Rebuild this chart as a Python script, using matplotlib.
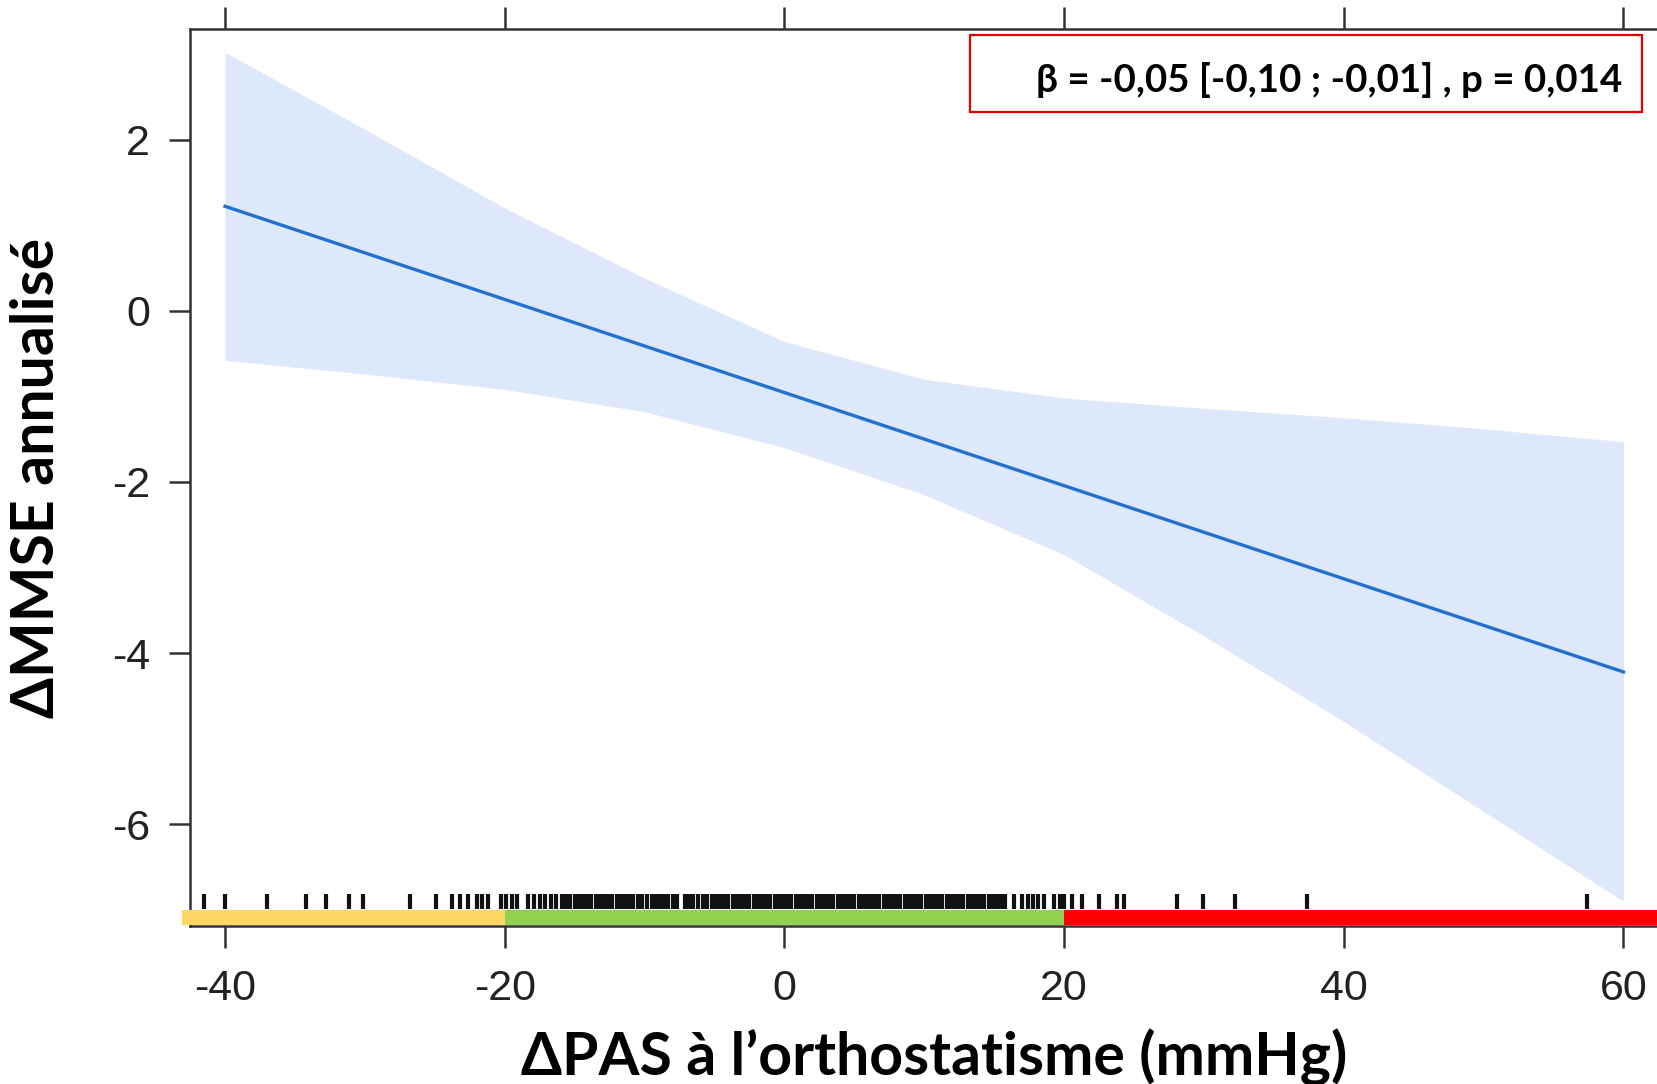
import numpy as np
import matplotlib
matplotlib.use("Agg")
import matplotlib.pyplot as plt
from matplotlib.patches import Rectangle

# ---- data --------------------------------------------------------------------
band_x = [-40, -30, -20, -10, 0, 10, 20, 30, 40, 50, 60]
band_upper = [3.02, 2.12, 1.20, 0.38, -0.36, -0.80, -1.02, -1.14, -1.25, -1.38, -1.53]
band_lower = [-0.58, -0.74, -0.92, -1.18, -1.60, -2.15, -2.85, -3.80, -4.80, -5.85, -6.90]
fit_x = [-40, 60]
fit_y = [1.22, -4.22]

rug = [-41.5, -40.0, -37.0, -34.2, -32.8, -31.1, -30.1, -26.8, -24.9, -23.8, -23.2,
       -22.6, -22.0, -21.6, -21.2, -20.3, -19.9, -19.5, -19.1, -18.3, -17.9, -17.5,
       -17.1, -16.7, -16.3,
       -15.9, -15.6, -15.3, -15.0, -14.7, -14.4, -14.1, -13.8, -13.5, -13.2, -12.9,
       -12.6, -12.3, -12.0, -11.7, -11.4, -11.1, -10.8, -10.5, -10.2, -9.8, -9.5,
       -9.2, -8.9, -8.6, -8.3, -8.0, -7.7, -7.1, -6.8, -6.5, -6.2, -5.8, -5.5, -5.2,
       -4.9, -4.6, -4.3, -4.0, -3.7, -3.4, -3.1, -2.8, -2.5, -2.2, -1.9, -1.6, -1.3,
       -1.0, -0.7, -0.4, -0.1, 0.2, 0.5, 0.8, 1.1, 1.4, 1.7, 2.0, 2.3, 2.6, 2.9,
       3.2, 3.5, 3.8, 4.1, 4.4, 4.7, 5.0, 5.3, 5.6, 5.9, 6.2, 6.5, 6.8, 7.1, 7.4,
       7.7, 8.0, 8.3, 8.6, 8.9, 9.2, 9.5, 9.8, 10.1, 10.4, 10.7, 11.0, 11.3, 11.6,
       11.9, 12.2, 12.5, 12.8, 13.1, 13.4, 13.7, 14.0, 14.3, 14.6, 14.9, 15.2, 15.5,
       15.8, 16.4, 17.0, 17.4, 17.8, 18.1, 18.6, 19.3, 19.7, 20.0, 20.6,
       21.3, 22.5, 23.8, 24.3, 28.1, 29.9, 32.2, 37.4, 57.4]

# categories of orthostatic SBP change (coloured strip under the rug)
zone_start = [-43.1, -20, 20]
zone_end = [-20, 20, 62.4]
zone_color = ["#fdd865", "#92d050", "#ff0000"]

xticks = [-40, -20, 0, 20, 40, 60]
xtick_labels = ["-40", "-20", "0", "20", "40", "60"]
yticks = [2, 0, -2, -4, -6]
ytick_labels = ["2", "0", "-2", "-4", "-6"]

annot = "β = -0,05 [-0,10 ; -0,01] , p = 0,014"
xlabel = "ΔPAS à l’orthostatisme (mmHg)"
ylabel = "ΔMMSE annualisé"

BAND, LINE, SPINE = "#dde8fb", "#2270cf", "#333333"
BOLD_FONT = ["Lato", "DejaVu Sans"]

# ---- figure -------------------------------------------------------------------
fig = plt.figure(figsize=(16.57, 10.84), dpi=100)
ax = fig.add_axes([0.1147, 0.1458, 1 - 0.1147, 0.9737 - 0.1458])

ax.fill_between(band_x, band_lower, band_upper, color=BAND, lw=0, zorder=1)
ax.plot(fit_x, fit_y, color=LINE, lw=2.4, zorder=3)
ax.vlines(rug, -6.99, -6.82, color="#111111", lw=3.0, zorder=4)

for x0, x1, c in zip(zone_start, zone_end, zone_color):
    ax.add_patch(Rectangle((x0, -7.18), x1 - x0, 0.18, facecolor=c, edgecolor="none",
                           clip_on=False, zorder=5))

ax.set_xlim(-42.5, 62.4)
ax.set_ylim(-7.188, 3.297)
ax.set_xticks(xticks)
ax.set_xticklabels(xtick_labels, fontfamily="Liberation Sans")
ax.set_yticks(yticks)
ax.set_yticklabels(ytick_labels, fontfamily="Liberation Sans")
ax.tick_params(axis="x", top=True, labeltop=False, direction="out", length=16,
               width=1.8, color=SPINE, labelsize=31, pad=15, labelcolor="#222222")
ax.tick_params(axis="y", direction="out", length=15, width=1.8, color=SPINE,
               labelsize=31, pad=14, labelcolor="#222222")
for s in ("left", "top", "bottom"):
    ax.spines[s].set_color(SPINE)
    ax.spines[s].set_linewidth(1.8)
ax.spines["right"].set_visible(False)

# annotation box
ax.add_patch(Rectangle((0.532, 0.907), 0.458, 0.0858, transform=ax.transAxes,
                       facecolor="white", edgecolor="#e00000", lw=1.6, zorder=6))
ax.text(0.976, 0.9426, annot, transform=ax.transAxes, ha="right", va="center",
        fontsize=27.7, fontweight="bold", family=BOLD_FONT, zorder=7)

fig.text(934 / 1657, 1 - 1057 / 1084, xlabel, ha="center", va="center",
         fontsize=42.5, fontweight="bold", family=BOLD_FONT)
fig.text(37 / 1657, 1 - 478 / 1084, ylabel, ha="center", va="center", rotation=90,
         fontsize=42.5, fontweight="bold", family=BOLD_FONT)

fig.savefig("out.png", dpi=100)
